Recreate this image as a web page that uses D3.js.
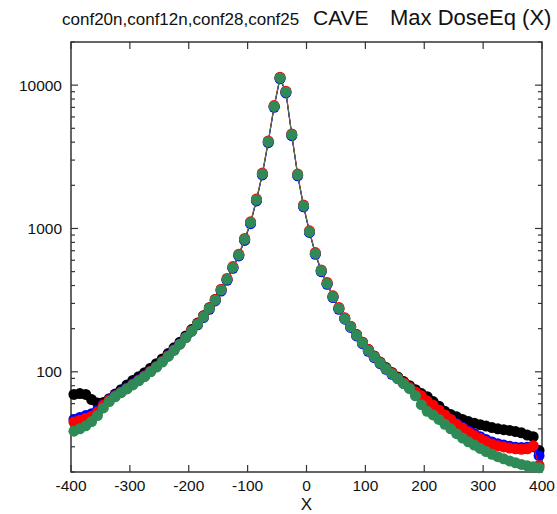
<!DOCTYPE html>
<html>
<head>
<meta charset="utf-8">
<script src="https://cdn.jsdelivr.net/npm/d3@7"></script>
<style>
  html, body { margin: 0; padding: 0; background: #fff; }
  svg { display: block; font-family: "Liberation Sans", Arial, sans-serif; }
</style>
</head>
<body>
<svg id="svg" width="557" height="514"></svg>
<script>
// --- Data ------------------------------------------------------------------
// bin centres along X, -395 .. 395 step 10
const xCenters = [
  -395,-385,-375,-365,-355,-345,-335,-325,-315,-305,-295,-285,-275,-265,-255,-245,-235,-225,-215,-205,
  -195,-185,-175,-165,-155,-145,-135,-125,-115,-105,-95,-85,-75,-65,-55,-45,-35,-25,-15,-5,
  5,15,25,35,45,55,65,75,85,95,105,115,125,135,145,155,165,175,185,195,
  205,215,225,235,245,255,265,275,285,295,305,315,325,335,345,355,365,375,385,395
];

const seriesNames = ["conf20n", "conf12n", "conf28", "conf25"];
const seriesColors = ["#000000", "#0000ff", "#ff0000", "#2e8b57"];

const conf20n = [
  69.5,70.5,69.5,64,60.5,61,65,70,75,81,87,92.5,98.5,106,114,123,134,147,161,178,
  197,219,246,280,320,372,440,533,650,838,1095,1575,2395,4015,7080,11200,8930,4490,2360,1430,
  948,668,505,412,333,276,236,207,182,161,143,129,117,107,99,92,85.5,80,75,70.5,
  67,62,57.5,53,50.3,48.5,46.5,45,43.8,42.8,41.8,40.8,40,39.5,39,38.3,37.5,36.2,35.3,28.3
];
const conf12n = [
  46.5,48,49.5,51,54,59.5,64,68.5,72.5,77,82.5,88,94,101,109,119,130,143,157,174,
  192,213,239,273,312,366,435,527,643,826,1080,1556,2365,3970,7010,11080,8830,4440,2330,1417,
  938,661,500,408,330,273,233,204,178,157,139,125.5,114,104,96,89.5,83,77,72,67.5,
  62.5,58.5,54,50,46.5,43.5,41,38.8,37,35.3,33.7,32.4,31.5,30.8,30.3,29.8,29.6,29.8,30,26
];
const conf28 = [
  44.6,46,47.5,49,52.5,58.5,63.5,68,72,76.5,82,87.5,93.5,100.5,108.5,118,129,142,156,173,
  194,217,245,280,320,377,448,542,662,852,1113,1603,2437,4085,7200,11370,9080,4570,2398,1456,
  963,679,514,420,339,281,238,208,182,161,143,128.5,116.5,106,98,91,84,78,72.5,68,
  62.5,58.5,54,50,46.5,43,40.5,38,36,34.2,32.6,31.3,30.5,29.9,29.4,29,28.8,29,30.5,22.2
];
const conf25 = [
  38.5,40,42,45,49.5,56,62,67,71.5,76,81,86.5,92.5,100,108,117,128,141,156,173,
  192,215,242,277,316,372,442,535,653,840,1099,1582,2404,4030,7110,11230,8960,4510,2366,1436,
  950,670,507,414,334,277,235,206,180,159,141,127,115,105,97,89.5,82.6,76.3,68,59,
  53,50,46.5,43,40,37,34.5,32.5,30.8,29.2,27.8,26.6,25.6,24.7,23.9,23.2,22.6,22.1,21.8,21.4
];
const seriesValues = [conf20n, conf12n, conf28, conf25];

const xTicks = [-400, -300, -200, -100, 0, 100, 200, 300, 400];
const yTicks = [100, 1000, 10000];

const titleSmall = "conf20n,conf12n,conf28,conf25";
const titleMain = "CAVE";
const titleRight = "Max DoseEq (X)";
const xLabel = "X";

// --- Layout ----------------------------------------------------------------
const svg = d3.select("#svg");
const L = 71, R = 542, T = 42, B = 472;

const x = d3.scaleLinear().domain([-400, 400]).range([L, R]);
const y = d3.scaleLog().domain([20, 20000]).range([B, T]);

// minor log ticks 2..9 per decade inside the domain
const minorTicks = [];
for (const dec of [10, 100, 1000, 10000]) {
  for (let m = 2; m <= 9; m++) {
    const v = dec * m;
    if (v >= 20 && v <= 20000) minorTicks.push(v);
  }
}

const axisG = svg.append("g").attr("stroke", "#333").attr("stroke-width", 1.2);

// ticks: y left/right
axisG.selectAll("line.ymaj").data(yTicks).enter().append("line")
  .attr("x1", L).attr("x2", L + 7).attr("y1", d => y(d)).attr("y2", d => y(d));
axisG.selectAll("line.ymajr").data(yTicks).enter().append("line")
  .attr("x1", R).attr("x2", R - 7).attr("y1", d => y(d)).attr("y2", d => y(d));
axisG.selectAll("line.ymin").data(minorTicks).enter().append("line")
  .attr("x1", L).attr("x2", L + 4).attr("y1", d => y(d)).attr("y2", d => y(d));
axisG.selectAll("line.yminr").data(minorTicks).enter().append("line")
  .attr("x1", R).attr("x2", R - 4).attr("y1", d => y(d)).attr("y2", d => y(d));
// ticks: x bottom/top
axisG.selectAll("line.xb").data(xTicks).enter().append("line")
  .attr("x1", d => x(d)).attr("x2", d => x(d)).attr("y1", B).attr("y2", B - 7);
axisG.selectAll("line.xt").data(xTicks).enter().append("line")
  .attr("x1", d => x(d)).attr("x2", d => x(d)).attr("y1", T).attr("y2", T + 7);

// frame
svg.append("rect")
  .attr("x", L).attr("y", T).attr("width", R - L).attr("height", B - T)
  .attr("fill", "none").attr("stroke", "#333").attr("stroke-width", 1.5);

// tick labels
svg.append("g").selectAll("text").data(xTicks).enter().append("text")
  .attr("x", d => x(d)).attr("y", 491)
  .attr("text-anchor", "middle").attr("font-size", 15.5).attr("fill", "#111")
  .text(d => d);
svg.append("g").selectAll("text").data(yTicks).enter().append("text")
  .attr("x", 62).attr("y", d => y(d) + 5.5)
  .attr("text-anchor", "end").attr("font-size", 15.5).attr("fill", "#111")
  .text(d => d);

svg.append("text").attr("x", (L + R) / 2).attr("y", 510)
  .attr("text-anchor", "middle").attr("font-size", 17).attr("fill", "#111")
  .text(xLabel);

// title
svg.append("text").attr("x", 62).attr("y", 25).attr("font-size", 17).attr("fill", "#111").text(titleSmall);
svg.append("text").attr("x", 313).attr("y", 25).attr("font-size", 21).attr("fill", "#111").text(titleMain);
svg.append("text").attr("x", 390).attr("y", 25).attr("font-size", 22).attr("fill", "#111").text(titleRight);

// --- Series ----------------------------------------------------------------
const line = d3.line().x(d => x(d[0])).y(d => y(d[1]));

seriesValues.forEach((vals, i) => {
  const pts = xCenters.map((xv, j) => [xv, vals[j]]);
  const g = svg.append("g").attr("class", "series " + seriesNames[i]);
  g.append("path").datum(pts)
    .attr("d", line).attr("fill", "none")
    .attr("stroke", seriesColors[i]).attr("stroke-width", 1);
  g.selectAll("circle").data(pts).enter().append("circle")
    .attr("cx", d => x(d[0])).attr("cy", d => y(d[1]))
    .attr("r", 5.5).attr("fill", seriesColors[i]);
});
</script>
</body>
</html>
